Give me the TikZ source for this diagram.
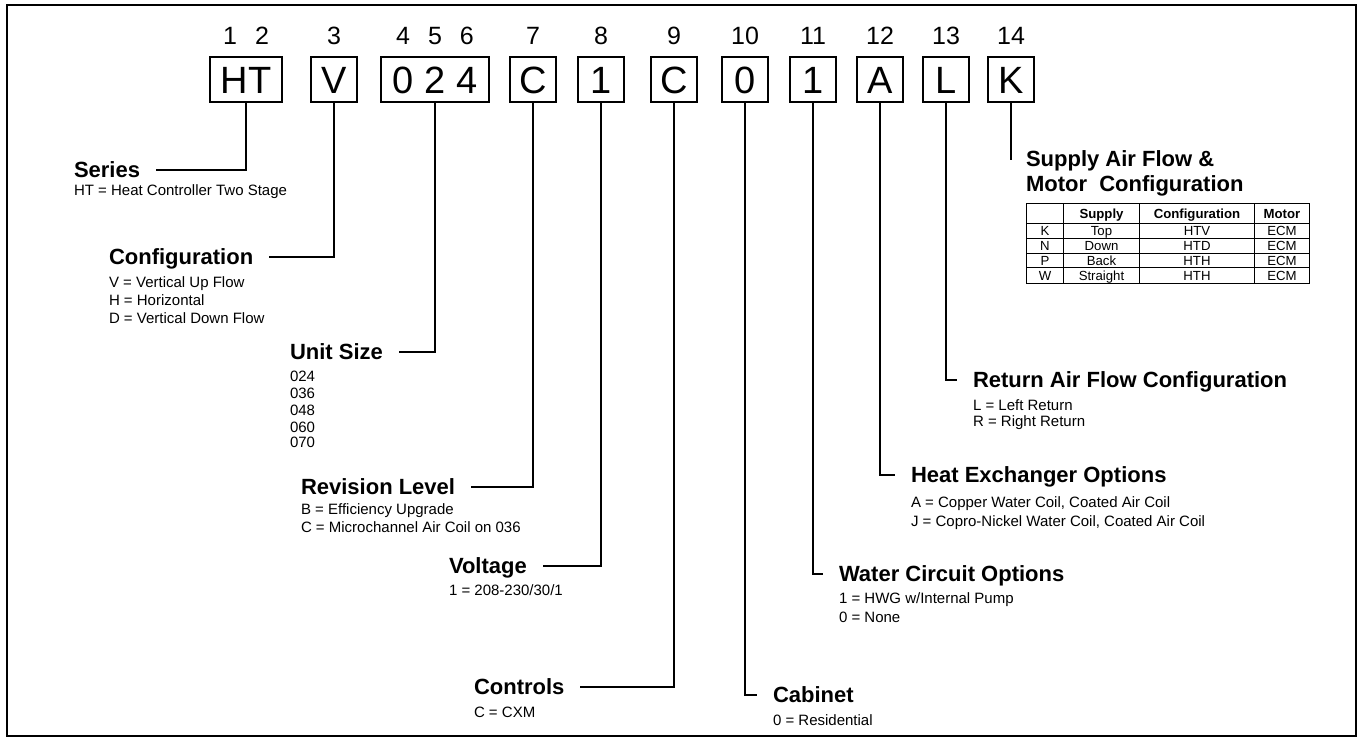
\documentclass[tikz,border=0pt]{standalone}
\usepackage{fontspec}
\setmainfont{Liberation Sans}
\usepackage{array}
\usetikzlibrary{positioning}
\newcolumntype{C}[1]{>{\centering\arraybackslash}p{#1}}

\begin{document}
\begin{tikzpicture}[x=0.5pt,y=-0.5pt,line width=1pt,
	code/.style={draw,minimum width=23pt,minimum height=22.5pt,inner sep=0pt,text height=13.6pt,text depth=0pt,font=\fontsize{19}{19}\selectfont},
	num/.style={inner sep=0pt,font=\fontsize{12.5}{15}\selectfont},
	head/.style={anchor=west,inner sep=0pt,text height=7.9pt,text depth=0pt,font=\fontsize{11}{13}\selectfont\bfseries},
	desc/.style={align=left,inner sep=0pt,font=\fontsize{7.5}{9}\selectfont},
	link/.style={shorten >=7.5pt}]
	\useasboundingbox (0,0) rectangle (1359,738);
	\draw[line width=1.2pt] (7,5) rectangle (1356,736);
	% model number boxes
	\node[code,minimum width=36pt] (bHT) at (246,79.5) {HT};
	\node[code,right=13.5pt of bHT] (bV) {V};
	\node[code,minimum width=54pt,right=11pt of bV] (bSize) {0 2 4};
	\node[code,right=9.5pt of bSize] (bRev) {C};
	\node[code,right=10pt of bRev] (bVolt) {1};
	\node[code,right=12.5pt of bVolt] (bCtrl) {C};
	\node[code,right=11.5pt of bCtrl] (bCab) {0};
	\node[code,right=10pt of bCab] (bWater) {1};
	\node[code,right=9.5pt of bWater] (bHeat) {A};
	\node[code,right=9pt of bHeat] (bReturn) {L};
	\node[code,right=8.5pt of bReturn] (bSupply) {K};
	% digit positions
	\node[num,above=5pt of bHT] (n12) {1\hspace{9pt}2};
	\node[num,above=5pt of bV] (n3) {3};
	\node[num,above=5pt of bSize] (n456) {4\hspace{9pt}5\hspace{9pt}6};
	\node[num,above=5pt of bRev] (n7) {7};
	\node[num,above=5pt of bVolt] (n8) {8};
	\node[num,above=5pt of bCtrl] (n9) {9};
	\node[num,above=5pt of bCab] (n10) {10};
	\node[num,above=5pt of bWater] (n11) {11};
	\node[num,above=5pt of bHeat] (n12b) {12};
	\node[num,above=5pt of bReturn] (n13) {13};
	\node[num,above=5pt of bSupply] (n14) {14};

	% left side
	\node[head] (Series) at (73,170) {Series};
	\node[desc,below right=2.5pt and 0pt of Series.south west] (SeriesD) {HT = Heat Controller Two Stage};
	\draw[link] (bHT.south) |- (Series.east);

	\node[head] (Config) at (108,257) {Configuration};
	\node[desc,below right=5pt and 0pt of Config.south west] (ConfigD) {V = Vertical Up Flow\\H = Horizontal\\D = Vertical Down Flow};
	\draw[link] (bV.south) |- (Config.east);

	\node[head] (Size) at (289,352) {Unit Size};
	\node[desc,below right=4.5pt and 0pt of Size.south west] (SizeD) {024\\[-0.5pt]036\\[-0.5pt]048\\[-0.5pt]060\\[-1.5pt]070};
	\draw[link] (bSize.south) |- (Size.east);

	\node[head] (Rev) at (300,487) {Revision Level};
	\node[desc,below right=3.5pt and 0pt of Rev.south west] (RevD) {B = Efficiency Upgrade\\C = Microchannel Air Coil on 036};
	\draw[link] (bRev.south) |- (Rev.east);

	\node[head] (Volt) at (448,566) {Voltage};
	\node[desc,below right=4.5pt and 0pt of Volt.south west] (VoltD) {1 = 208-230/30/1};
	\draw[link] (bVolt.south) |- (Volt.east);

	\node[head] (Ctrl) at (473,687) {Controls};
	\node[desc,below right=5pt and 0pt of Ctrl.south west] (CtrlD) {C = CXM};
	\draw[link] (bCtrl.south) |- (Ctrl.east);

	% right side
	\node[head] (Cab) at (772,695) {Cabinet};
	\node[desc,below right=5pt and 0pt of Cab.south west] (CabD) {0 = Residential};
	\draw[link] (bCab.south) |- (Cab.west);

	\node[head] (Water) at (838,574) {Water Circuit Options};
	\node[desc,below right=4.5pt and 0pt of Water.south west] (WaterD) {1 = HWG w/Internal Pump\\[0.5pt]0 = None};
	\draw[link] (bWater.south) |- (Water.west);

	\node[head] (Heat) at (910,475) {Heat Exchanger Options};
	\node[desc,below right=6pt and 0pt of Heat.south west] (HeatD) {A = Copper Water Coil, Coated Air Coil\\[0.5pt]J = Copro-Nickel Water Coil, Coated Air Coil};
	\draw[link] (bHeat.south) |- (Heat.west);

	\node[head] (Return) at (972,380) {Return Air Flow Configuration};
	\node[desc,below right=5pt and 0pt of Return.south west] (ReturnD) {L = Left Return\\[-1pt]R = Right Return};
	\draw[link] (bReturn.south) |- (Return.west);

	\node[head] (Supply) at (1025,159) {Supply Air Flow \&};
	\node[head,below right=3.5pt and 0pt of Supply.south west] (Motor) {Motor~ Configuration};
	\draw[link] (bSupply.south) |- (Supply.west);
	\node[below right=4.5pt and 0pt of Motor.south west,inner sep=0pt,font=\fontsize{6.6}{3.33}\selectfont] (tab) {%
		\setlength{\tabcolsep}{0pt}\setlength{\arrayrulewidth}{0.5pt}\setlength{\extrarowheight}{3.5pt}%
		\begin{tabular}{|C{18pt}|C{37.5pt}|C{57pt}|C{27pt}|}\hline
		\rule[-2.2pt]{0pt}{9.5pt} & \bfseries Supply & \bfseries Configuration & \bfseries Motor\\\hline
		K & Top & HTV & ECM\\\hline
		N & Down & HTD & ECM\\\hline
		P & Back & HTH & ECM\\\hline
		W & Straight & HTH & ECM\\\hline
		\end{tabular}};
\end{tikzpicture}
\end{document}
